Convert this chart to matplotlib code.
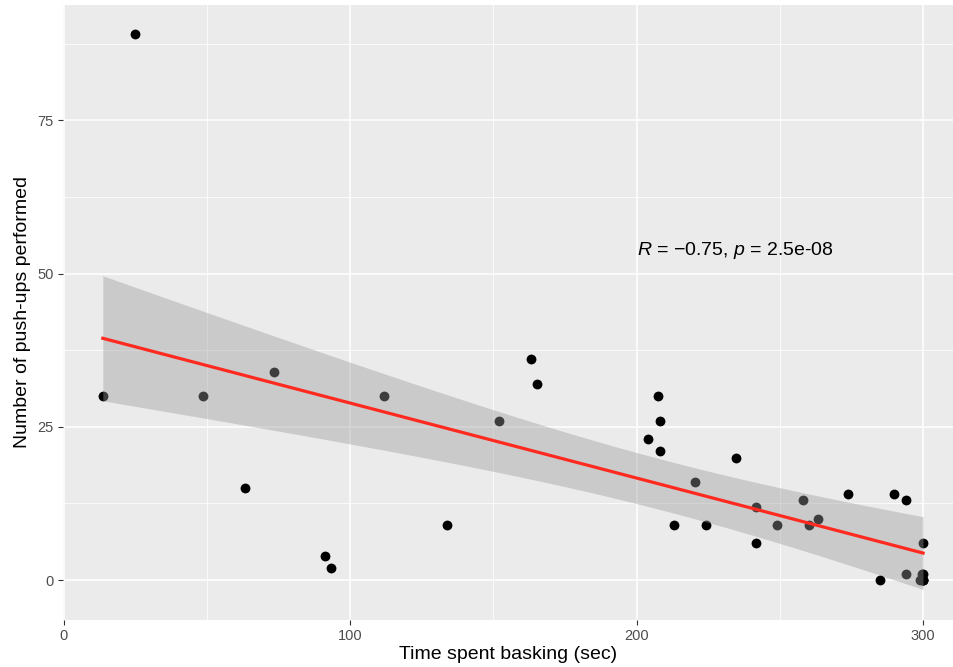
import numpy as np
import matplotlib.pyplot as plt

# basking time (sec) vs push-ups
# (several animals sit on top of each other at the 300 s cap)
basking = [24.8, 13.6, 48.7, 73.5, 63.2, 91.3, 93.3, 111.9, 152.0, 163.2,
           165.1, 133.7, 207.6, 208.0, 203.9, 208.3, 220.2, 213.0, 234.8,
           224.2, 241.5, 241.7, 248.9, 258.2, 260.1, 263.2, 273.8, 289.7,
           294.1, 285.1, 293.9, 299.9, 299.7, 299.1, 300.0, 300.0, 300.0,
           299.5, 300.0]
pushups = [89, 30, 30, 34, 15, 4, 2, 30, 26, 36,
           32, 9, 30, 26, 23, 21, 16, 9, 20,
           9, 12, 6, 9, 13, 9, 10, 14, 14,
           13, 0, 1, 6, 1, 0, 0, 0, 1,
           0, 0]
xticks = [0, 100, 200, 300]
yticks = [0, 25, 50, 75]
label = "$R$ = \u22120.75, $p$ = 2.5e-08"

plt.rcParams['font.family'] = ['Liberation Sans', 'DejaVu Sans']
plt.rcParams['mathtext.fontset'] = 'custom'
plt.rcParams['mathtext.rm'] = 'Liberation Sans'
plt.rcParams['mathtext.it'] = 'Liberation Sans:italic'

x = np.array(basking)
y = np.array(pushups)

# linear fit + 95% confidence band (like geom_smooth(method="lm"))
n = len(x)
slope, icpt = np.polyfit(x, y, 1)
xs = np.linspace(x.min(), x.max(), 80)
ys = icpt + slope * xs
resid = y - (icpt + slope * x)
s = np.sqrt(np.sum(resid ** 2) / (n - 2))
t_crit = 2.026  # t(0.975, df=37)
se = s * np.sqrt(1 / n + (xs - x.mean()) ** 2 / np.sum((x - x.mean()) ** 2))

fig = plt.figure(figsize=(9.54, 6.67), dpi=100)
ax = fig.add_axes([63 / 954, 47 / 667, 891 / 954, 615 / 667])
ax.set_facecolor('#EBEBEB')
for sp in ax.spines.values():
    sp.set_visible(False)

ax.set_xlim(-0.3, 310.8)
ax.set_ylim(-6.5, 93.8)
ax.set_xticks(xticks)
ax.set_yticks(yticks)
ax.set_xticks([50, 150, 250], minor=True)
ax.set_yticks([12.5, 37.5, 62.5, 87.5], minor=True)
ax.grid(which='major', color='white', linewidth=1.1)
ax.grid(which='minor', color='white', linewidth=0.55)
ax.set_axisbelow(True)
ax.tick_params(which='major', length=3.5, width=0.8, color='#333333',
               labelsize=10.5, labelcolor='#4D4D4D', pad=3)
ax.tick_params(which='minor', length=0)

ax.scatter(x, y, s=50, color='black', zorder=2, linewidths=0)
ax.fill_between(xs, ys - t_crit * se, ys + t_crit * se, color='#999999',
                alpha=0.4, linewidth=0, zorder=3)
ax.plot(xs, ys, color='#FF2A1F', linewidth=2.3, zorder=4)

ax.text(200, 53.8, label, fontsize=14, ha='left', va='center', color='black')

ax.set_xlabel('Time spent basking (sec)', fontsize=14, labelpad=2)
ax.set_ylabel('Number of push-ups performed', fontsize=14, labelpad=5)

fig.savefig('out.png', dpi=100)
